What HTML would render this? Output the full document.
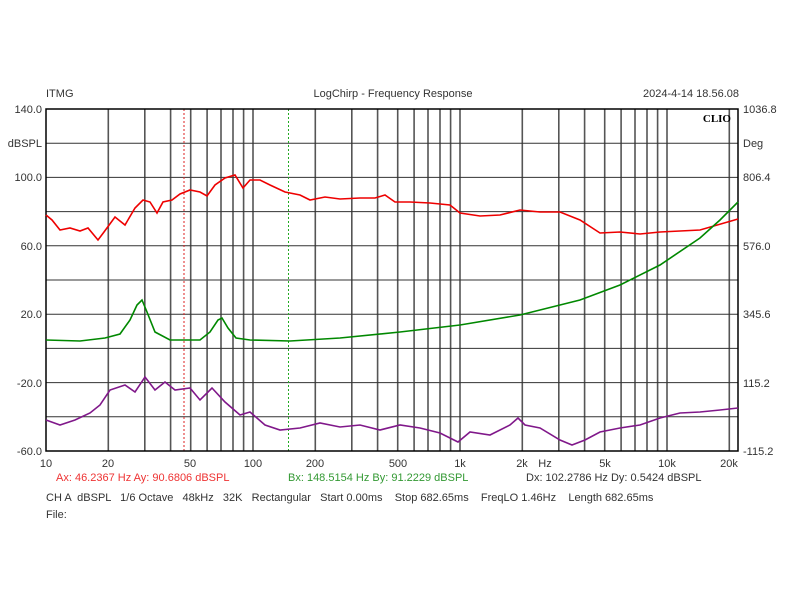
<!DOCTYPE html><html><head><style>body{margin:0;background:#fff}svg text{font-family:"Liberation Sans",sans-serif;font-size:11px;fill:#333}</style></head><body>
<svg width="800" height="600" xmlns="http://www.w3.org/2000/svg">
<text x="46" y="97">ITMG</text>
<text x="393" y="97" text-anchor="middle">LogChirp - Frequency Response</text>
<text x="739" y="97" text-anchor="end">2024-4-14 18.56.08</text>
<g stroke="#555" stroke-width="1.6">
<line x1="108.3" y1="109" x2="108.3" y2="451"/><line x1="144.8" y1="109" x2="144.8" y2="451"/><line x1="170.6" y1="109" x2="170.6" y2="451"/><line x1="190.7" y1="109" x2="190.7" y2="451"/><line x1="207.1" y1="109" x2="207.1" y2="451"/><line x1="221" y1="109" x2="221" y2="451"/><line x1="233" y1="109" x2="233" y2="451"/><line x1="243.6" y1="109" x2="243.6" y2="451"/>
<line x1="253" y1="109" x2="253" y2="451"/>
<line x1="315.3" y1="109" x2="315.3" y2="451"/><line x1="351.8" y1="109" x2="351.8" y2="451"/><line x1="377.6" y1="109" x2="377.6" y2="451"/><line x1="397.7" y1="109" x2="397.7" y2="451"/><line x1="414.1" y1="109" x2="414.1" y2="451"/><line x1="428" y1="109" x2="428" y2="451"/><line x1="440" y1="109" x2="440" y2="451"/><line x1="450.6" y1="109" x2="450.6" y2="451"/>
<line x1="460" y1="109" x2="460" y2="451"/>
<line x1="522.3" y1="109" x2="522.3" y2="451"/><line x1="558.8" y1="109" x2="558.8" y2="451"/><line x1="584.6" y1="109" x2="584.6" y2="451"/><line x1="604.7" y1="109" x2="604.7" y2="451"/><line x1="621.1" y1="109" x2="621.1" y2="451"/><line x1="635" y1="109" x2="635" y2="451"/><line x1="647" y1="109" x2="647" y2="451"/><line x1="657.6" y1="109" x2="657.6" y2="451"/>
<line x1="667" y1="109" x2="667" y2="451"/><line x1="729.3" y1="109" x2="729.3" y2="451"/>
</g>
<g stroke="#333" stroke-width="1">
<line x1="46" y1="143.2" x2="738" y2="143.2"/><line x1="46" y1="177.4" x2="738" y2="177.4"/><line x1="46" y1="211.6" x2="738" y2="211.6"/><line x1="46" y1="245.8" x2="738" y2="245.8"/><line x1="46" y1="280" x2="738" y2="280"/><line x1="46" y1="314.2" x2="738" y2="314.2"/><line x1="46" y1="348.4" x2="738" y2="348.4"/><line x1="46" y1="382.6" x2="738" y2="382.6"/><line x1="46" y1="416.8" x2="738" y2="416.8"/>
</g>
<line x1="184" y1="109" x2="184" y2="451" stroke="#d22" stroke-dasharray="2,2"/>
<line x1="288.5" y1="109" x2="288.5" y2="451" stroke="#2a2" stroke-dasharray="2,2"/>
<rect x="46" y="109" width="692" height="342" fill="none" stroke="#000" stroke-width="1.5"/>
<text x="731" y="122" text-anchor="end" style="font-family:'Liberation Serif',serif;font-weight:bold;font-size:11px;fill:#000">CLIO</text>
<polyline fill="none" stroke="#e00" stroke-width="1.6" points="46,215 52,220 60,230 70,228 80,231 88,228 98,240 104,232 115,217 125,225 135,208 143,200 150,202 157,213 163,202 172,200 180,194 190,190 200,192 207,196 215,185 225,178 235,175 243,188 250,180 260,180 270,185 285,192 300,195 310,200 325,197 340,199 360,198 375,198 385,195 395,202 410,202 430,203 450,205 460,213 480,216 500,215 520,210 540,212 560,212 580,220 600,233 620,232 640,234 660,232 700,230 738,219"/>
<polyline fill="none" stroke="#080" stroke-width="1.6" points="46,340 80,341 105,338 120,334 130,320 137,305 142,300 147,312 155,332 170,340 200,340 210,332 218,320 222,318 228,328 236,338 250,340 290,341 340,338 400,332 460,325 520,315 580,300 620,285 660,265 700,238 720,220 738,202"/>
<polyline fill="none" stroke="#80188a" stroke-width="1.6" points="46,420 60,425 75,420 90,413 100,405 110,390 125,385 135,392 145,377 155,390 165,382 175,390 190,388 200,400 212,388 225,402 240,415 250,412 265,425 280,430 300,428 320,423 340,427 360,425 380,430 400,425 420,428 440,433 458,442 470,432 490,435 510,425 518,418 525,425 540,428 560,440 572,445 585,440 600,432 620,428 640,425 660,418 680,413 700,412 720,410 738,408"/>
<g style="font-size:11.5px">
<text x="42" y="113" text-anchor="end">140.0</text><text x="42" y="147" text-anchor="end">dBSPL</text><text x="42" y="181" text-anchor="end">100.0</text><text x="42" y="250" text-anchor="end">60.0</text><text x="42" y="318" text-anchor="end">20.0</text><text x="42" y="387" text-anchor="end">-20.0</text><text x="42" y="455" text-anchor="end">-60.0</text>
<text x="743" y="113">1036.8</text><text x="743" y="147">Deg</text><text x="743" y="181">806.4</text><text x="743" y="250">576.0</text><text x="743" y="318">345.6</text><text x="743" y="387">115.2</text><text x="743" y="455">-115.2</text>
</g>
<g text-anchor="middle">
<text x="46" y="467">10</text><text x="108" y="467">20</text><text x="190" y="467">50</text><text x="253" y="467">100</text><text x="315" y="467">200</text><text x="398" y="467">500</text><text x="460" y="467">1k</text><text x="522" y="467">2k</text><text x="545" y="467">Hz</text><text x="605" y="467">5k</text><text x="667" y="467">10k</text><text x="729" y="467">20k</text>
</g>
<text x="56" y="481" style="fill:#e33">Ax: 46.2367 Hz   Ay: 90.6806 dBSPL</text>
<text x="288" y="481" style="fill:#393">Bx: 148.5154 Hz   By: 91.2229 dBSPL</text>
<text x="526" y="481">Dx: 102.2786 Hz   Dy: 0.5424 dBSPL</text>
<text x="46" y="501" xml:space="preserve">CH A  dBSPL   1/6 Octave   48kHz   32K   Rectangular   Start 0.00ms    Stop 682.65ms    FreqLO 1.46Hz    Length 682.65ms</text>
<text x="46" y="518">File:</text>
</svg></body></html>
